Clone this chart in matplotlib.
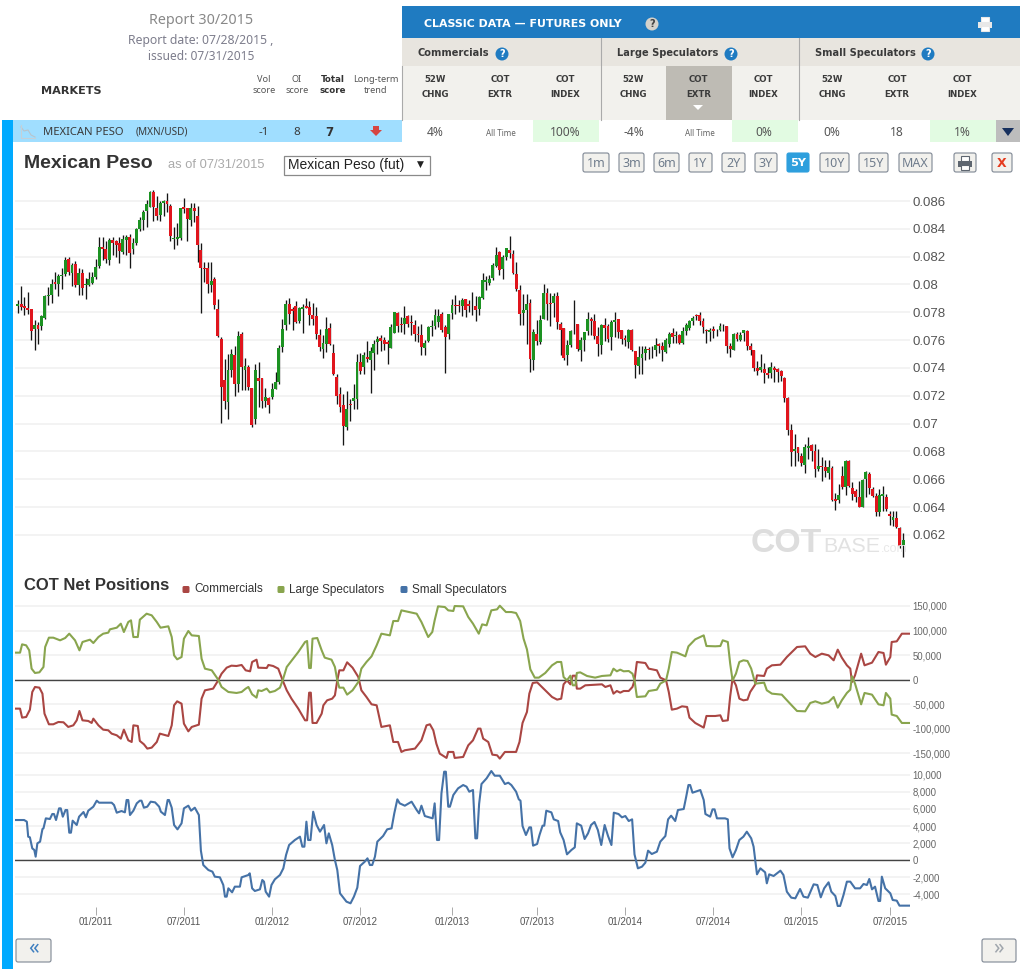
import numpy as np
import matplotlib
matplotlib.use('Agg')
import matplotlib.pyplot as plt
from matplotlib.patches import Rectangle, FancyBboxPatch, Circle, Polygon

# weekly candles, prices in thousandths of USD per MXN
opens = [78.49,78.58,78.46,78.29,78.22,76.81,77.09,77.00,77.62,79.16,
         79.23,80.19,80.02,80.60,80.72,81.85,80.79,81.44,79.95,80.84,
         79.93,79.95,80.12,80.55,81.32,82.71,82.52,81.75,83.19,83.09,
         82.95,82.35,83.19,83.38,82.54,82.95,84.00,84.63,85.25,85.59,
         86.67,85.49,84.97,85.83,86.02,85.66,83.26,83.26,83.31,85.54,
         85.47,84.63,85.47,84.94,82.47,81.22,81.15,79.97,80.43,78.27,
         76.11,73.11,71.55,73.83,74.96,72.82,76.47,73.88,74.07,72.53,
         70.35,73.30,73.30,71.60,71.84,71.91,72.46,73.00,75.51,77.07,
         78.63,78.27,78.44,77.38,78.25,78.44,78.39,77.79,77.72,76.40,
         75.39,75.70,76.85,75.10,73.35,72.10,71.35,69.78,71.42,71.66,
         71.76,74.46,74.05,74.78,74.54,75.07,75.86,76.15,75.98,75.86,
         75.45,76.51,77.97,77.18,77.13,77.71,77.28,77.06,76.41,76.34,
         75.45,75.93,76.94,76.99,77.30,77.90,76.94,76.46,77.97,78.55,
         78.55,78.43,78.98,78.62,78.55,78.43,78.21,79.05,80.16,80.13,
         80.47,81.33,82.32,81.14,81.98,82.46,82.22,80.78,79.63,77.97,
         78.19,78.67,74.54,76.46,75.86,77.52,79.39,78.67,78.67,79.15,
         77.18,76.87,74.90,75.62,77.18,77.13,75.26,75.98,76.63,77.52,
         77.37,76.27,75.62,77.11,76.99,76.22,77.30,77.54,76.75,76.17,
         75.86,76.75,75.21,74.11,74.73,75.07,75.38,75.38,75.26,75.69,
         75.57,75.14,75.74,76.51,76.27,76.39,75.83,76.63,76.87,77.35,
         77.79,77.79,77.40,76.75,76.56,76.80,76.70,76.75,76.99,77.04,
         75.59,75.30,76.44,75.98,76.51,76.63,75.55,75.30,73.98,73.86,
         73.91,73.67,73.67,73.98,73.91,73.81,73.26,71.81,69.57,68.00,
         68.32,67.71,67.06,68.27,68.44,68.03,66.75,66.94,66.87,66.44,
         66.80,64.58,64.53,66.27,65.42,67.35,65.38,65.18,64.70,63.98,
         66.03,66.39,65.30,64.82,63.62,64.82,64.75,63.50,63.09,63.21,
         62.53,61.28]
closes = [78.58,78.39,78.34,78.20,76.66,77.09,76.81,77.72,79.16,79.23,
          80.00,80.05,80.60,80.69,81.75,80.91,81.37,79.95,80.79,79.78,
          80.02,80.38,80.55,81.27,82.71,82.57,81.80,83.19,82.95,82.85,
          82.40,83.29,83.38,82.28,82.95,84.00,84.63,85.21,85.78,86.65,
          85.54,84.94,85.83,86.00,85.78,83.48,83.36,83.41,85.47,85.45,
          84.68,85.47,85.30,82.83,81.20,81.13,80.00,80.26,78.51,76.28,
          72.63,71.60,73.83,74.98,72.82,76.30,74.07,74.17,72.63,69.87,
          73.83,73.04,71.60,71.91,71.31,72.49,73.00,75.46,76.83,78.63,
          77.86,78.10,77.31,78.29,78.39,78.34,77.79,77.55,76.42,75.51,
          75.82,76.78,75.70,73.54,71.96,71.16,69.83,71.08,71.33,71.81,
          74.46,73.81,74.94,74.64,75.21,75.74,76.10,75.93,75.69,75.74,
          76.94,78.02,77.04,77.08,77.59,77.18,77.23,76.46,76.34,75.50,
          75.81,76.94,77.04,77.78,77.73,76.70,76.22,77.90,78.50,78.43,
          78.48,78.91,78.19,78.43,78.50,78.14,79.10,80.30,80.30,80.42,
          81.43,82.15,81.02,81.98,82.63,82.29,80.83,79.70,77.85,78.19,
          78.62,74.66,76.58,75.93,77.47,79.39,78.57,78.62,79.15,77.30,
          76.75,74.73,75.67,76.63,77.13,75.38,75.98,76.58,77.54,77.35,
          76.27,75.69,77.11,76.89,76.10,77.30,77.42,76.58,76.10,76.03,
          76.70,75.26,74.18,74.78,75.02,75.38,75.31,75.33,75.62,75.55,
          75.31,76.03,76.46,76.22,76.39,75.79,76.63,77.11,77.35,77.59,
          77.71,77.40,76.92,76.63,76.70,76.63,76.75,77.04,77.04,75.59,
          75.35,76.44,76.08,76.39,76.70,75.59,75.26,73.98,73.81,74.10,
          73.67,73.50,74.05,73.86,73.74,73.43,71.81,69.57,67.95,68.15,
          67.88,67.16,68.32,68.39,68.03,66.75,66.99,66.87,66.58,66.87,
          64.53,64.46,64.89,65.47,67.30,65.50,64.94,64.70,63.98,65.98,
          66.51,65.38,64.82,63.62,64.89,64.94,63.86,63.38,63.26,62.58,
          61.21,61.66]
highs = [78.92,79.88,79.11,79.47,78.27,77.43,77.31,77.79,79.23,79.83,
         80.36,80.91,80.72,81.20,81.99,81.94,81.51,81.70,81.15,81.08,
         80.50,80.91,80.91,81.80,83.38,83.38,83.14,83.31,83.38,83.19,
         83.43,83.55,83.55,83.60,83.31,84.08,84.82,85.35,86.07,86.72,
         86.79,86.36,86.02,86.07,86.60,85.76,84.15,84.44,85.52,86.19,
         85.52,85.88,85.88,85.64,82.95,81.63,81.63,81.63,80.55,78.99,
         76.23,74.67,75.03,75.39,75.58,76.66,76.59,74.74,74.19,72.58,
         74.31,74.43,73.30,72.58,71.91,72.92,73.71,75.63,77.55,78.87,
         79.06,78.39,78.82,78.39,78.63,79.01,78.82,78.68,78.39,76.78,
         76.35,77.67,77.24,75.75,73.59,72.60,72.12,72.36,71.76,72.84,
         75.01,75.08,75.13,75.91,75.50,75.98,76.27,76.39,76.22,75.98,
         77.18,78.02,78.02,77.66,78.45,77.83,77.83,77.47,76.99,77.18,
         76.03,76.99,77.42,78.21,78.21,78.02,77.06,77.90,78.93,79.22,
         78.91,79.05,78.98,78.86,79.46,79.15,79.15,80.83,80.59,80.66,
         81.55,82.70,82.41,82.10,82.63,83.52,82.46,81.62,79.94,79.34,
         79.34,78.98,76.82,77.47,77.83,80.06,79.75,79.39,79.39,79.46,
         77.30,76.87,75.98,76.70,78.91,77.13,76.22,76.58,78.02,77.66,
         77.90,76.94,77.18,77.56,77.13,77.42,78.02,77.54,76.75,76.34,
         76.82,76.82,75.21,75.55,75.55,75.55,75.50,75.55,76.17,75.79,
         75.86,76.17,76.58,76.87,76.63,76.46,76.92,77.23,77.47,77.71,
         77.91,78.00,77.59,76.80,76.87,76.99,76.80,77.23,77.18,77.04,
         75.79,76.51,76.61,76.56,76.75,76.70,75.83,75.30,74.51,74.99,
         74.39,74.10,74.46,74.17,73.98,73.86,73.38,71.93,70.00,69.28,
         68.32,67.88,68.51,69.04,68.51,68.56,68.20,67.59,67.40,67.40,
         66.94,64.99,65.66,66.99,67.40,67.40,65.79,65.30,65.91,66.03,
         66.63,66.51,65.47,64.99,65.30,65.54,64.94,63.69,63.69,63.69,
         62.58,62.17]
lows = [77.98,78.15,77.79,77.91,75.99,75.32,75.70,76.71,77.55,78.56,
        78.70,79.71,79.18,79.64,80.62,80.67,79.88,79.83,79.23,79.28,
        78.94,79.90,80.02,80.36,81.22,81.75,81.51,81.39,82.11,81.99,
        81.56,82.18,82.11,81.15,82.18,82.83,83.84,83.91,84.15,85.59,
        84.58,84.63,84.58,84.92,85.23,83.14,82.52,82.83,83.19,85.11,
        83.14,84.20,84.51,81.63,77.98,80.19,79.40,79.47,78.27,76.23,
        70.06,71.07,70.35,73.35,71.96,72.27,72.39,72.39,72.39,69.75,
        69.99,71.19,71.12,71.19,70.78,71.79,72.46,72.87,75.15,76.71,
        77.19,76.71,77.24,77.24,76.52,78.29,77.12,77.07,76.11,75.22,
        74.74,75.15,75.68,73.47,71.43,70.84,68.50,69.54,70.19,71.08,
        71.08,73.57,73.60,74.42,72.21,73.87,75.02,75.21,75.31,74.30,
        75.45,76.51,76.58,76.58,76.46,76.94,76.34,75.93,75.86,74.95,
        74.95,75.86,76.27,76.82,76.94,76.58,73.63,76.05,77.49,77.90,
        78.02,77.73,77.66,78.02,77.78,77.35,77.78,78.98,79.58,79.94,
        80.35,81.26,80.66,80.42,81.79,81.93,80.73,79.51,77.11,77.11,
        75.69,73.70,73.82,75.62,75.69,77.52,77.47,77.04,77.66,76.82,
        74.95,74.59,74.18,75.50,76.41,75.21,74.49,75.21,76.39,76.34,
        76.10,74.83,75.02,75.93,75.86,75.26,76.22,76.17,75.74,75.55,
        75.45,75.21,73.27,73.58,73.58,74.59,74.66,74.73,74.85,75.07,
        74.49,75.07,75.50,75.79,75.79,75.71,75.74,76.39,76.75,77.11,
        77.47,77.11,76.51,75.79,75.91,76.15,76.27,76.63,76.63,75.11,
        74.82,75.26,75.91,75.91,75.91,75.30,74.94,73.81,73.50,73.74,
        72.90,73.26,73.26,73.02,73.02,73.09,71.57,69.16,66.94,66.94,
        67.35,66.99,66.44,67.47,67.35,66.20,66.63,65.91,66.15,66.03,
        64.46,63.81,64.27,65.30,64.87,65.42,64.51,64.34,63.98,63.98,
        64.70,64.94,64.70,63.38,63.38,63.74,63.74,62.72,62.65,62.48,
        61.09,60.41]

# net positions, week number from first candle, contracts in thousands
comm_weeks = [-0.8,0.7,1.3,2.5,3.6,4.3,5.1,6.4,7.3,7.9,9.2,10.5,12.0,13.5,14.9,16.4,17.4,18.2,19.1,20.8,
              21.8,22.3,23.8,25.2,26.7,27.7,29.2,30.4,31.3,32.6,33.6,34.1,35.4,36.0,37.2,38.2,39.5,41.0,41.9,44.4,
              45.4,46.1,47.0,48.3,49.0,50.3,51.3,53.4,54.2,55.2,57.6,59.1,60.1,61.6,63.0,64.5,66.0,67.2,68.5,69.1,
              70.4,70.9,73.4,73.9,75.3,76.8,78.1,79.3,80.7,82.7,84.7,85.3,85.9,86.4,86.9,88.1,89.6,90.1,91.2,92.7,
              93.5,94.2,94.8,96.0,97.1,98.7,100.4,101.3,102.8,104.3,105.8,107.2,109.7,110.7,112.1,113.1,114.1,117.1,119.0,120.5,
              121.5,122.5,123.4,124.4,126.4,126.9,128.4,128.8,131.3,132.8,134.2,135.7,136.4,137.2,138.7,139.9,141.3,142.1,143.6,145.5,
              146.9,147.9,148.8,150.1,150.8,151.8,153.1,155.5,157.5,159.0,160.2,160.9,161.9,162.9,163.6,164.4,164.8,165.8,167.3,172.2,
              173.2,174.7,175.6,176.6,177.6,178.6,180.1,181.2,181.8,182.5,185.0,186.0,188.4,189.4,191.1,191.9,192.8,194.3,195.8,197.3,
              198.0,199.7,202.2,203.0,205.6,207.1,207.8,209.3,210.0,210.7,211.7,212.7,213.9,215.1,215.9,217.4,217.9,220.0,220.8,222.3,
              224.8,226.7,229.7,232.1,233.6,235.1,237.0,239.0,240.5,241.7,242.9,244.4,245.4,245.9,246.8,248.6,249.6,251.8,253.7,255.2,
              255.9,257.2,257.6,259.1,260.6,263.0]
comm_net = [-59.0,-59.0,-77.3,-76.0,-61.1,-25.1,-14.9,-16.3,-28.5,-69.2,-90.9,-90.9,-86.2,-86.8,-96.3,-93.0,-82.8,-63.8,-82.8,-84.1,
            -88.2,-79.4,-93.0,-101.8,-103.1,-109.9,-113.3,-120.1,-101.8,-123.5,-126.9,-93.0,-94.3,-124.8,-131.6,-140.4,-138.4,-126.9,-109.9,-114.7,
            -93.0,-52.2,-44.1,-48.9,-89.6,-105.2,-96.3,-91.6,-38.7,-21.7,-18.3,-1.4,12.2,24.4,28.5,27.8,29.9,19.0,17.0,36.0,
            40.7,24.4,23.7,29.9,27.8,22.4,-1.4,-21.7,-38.7,-59.0,-82.8,-82.8,-26.5,-26.5,-88.2,-88.2,-69.2,-52.2,-42.1,-38.7,
            -31.9,-1.4,19.0,19.0,35.3,24.4,5.4,-21.7,-35.3,-50.2,-52.2,-96.3,-93.0,-126.9,-126.9,-147.2,-143.8,-140.4,-123.5,-93.0,
            -90.9,-103.1,-130.3,-150.6,-159.4,-147.2,-147.2,-159.4,-157.4,-133.7,-123.5,-99.7,-99.7,-120.1,-126.9,-152.7,-154.0,-160.8,-147.2,-147.2,
            -147.2,-126.9,-88.2,-65.8,-28.5,-6.8,-5.4,-21.7,-35.3,-40.7,-38.7,-9.5,-1.4,-9.5,8.1,8.1,-18.3,-18.3,-11.5,-9.5,
            -14.9,-11.5,-28.5,-23.1,-26.5,-23.1,-23.1,-14.9,-1.4,36.0,33.9,22.4,19.0,4.1,-1.4,-25.1,-61.1,-59.0,-54.3,-55.6,
            -77.3,-88.2,-97.7,-74.0,-74.0,-72.6,-84.1,-82.8,-33.9,2.0,-11.5,-38.7,-42.1,-40.7,-25.1,-9.5,8.8,7.5,22.4,29.2,
            30.5,46.1,66.5,67.9,52.9,46.1,52.9,49.5,39.4,61.1,44.8,29.2,22.4,-4.7,8.8,52.9,29.2,34.6,56.3,54.3,
            30.5,46.1,76.7,78.0,93.6,93.6]

large_weeks = [-0.8,0.7,1.3,2.5,3.4,4.1,5.1,6.4,7.6,8.1,9.2,10.5,12.5,14.0,15.2,16.9,18.2,19.1,21.3,22.3,
               23.8,25.2,26.7,27.2,29.2,30.4,31.3,32.6,33.4,34.1,35.4,36.0,38.0,39.5,41.0,42.1,44.4,45.4,46.1,47.0,
               48.3,49.0,50.3,51.3,53.4,54.2,55.2,57.2,59.1,60.1,62.1,64.5,66.0,67.2,68.0,69.1,70.4,70.9,71.9,73.4,
               74.3,75.8,77.3,78.1,79.3,81.2,82.7,84.7,85.3,85.9,86.4,86.9,88.3,89.6,90.5,92.5,93.5,94.2,94.8,96.0,
               97.1,98.7,100.4,101.3,102.8,104.3,105.8,107.2,109.7,110.7,112.1,113.1,117.6,119.0,121.0,122.2,122.9,123.9,125.9,126.9,
               128.4,128.8,131.3,132.8,134.2,135.9,136.9,138.2,139.6,141.3,142.1,143.9,145.5,146.9,148.1,149.1,150.1,151.1,152.4,153.6,
               155.5,157.5,159.0,160.2,160.9,161.9,162.9,163.6,164.4,164.8,165.8,167.8,170.2,172.2,174.7,175.6,176.6,177.6,178.6,180.1,
               181.2,181.8,182.5,185.0,186.0,188.4,189.4,191.1,191.9,192.8,194.3,196.8,197.7,199.7,202.2,203.0,205.6,207.1,207.8,209.3,
               210.0,210.7,211.7,212.7,213.9,215.1,216.2,217.4,220.0,220.8,222.3,225.2,227.2,229.7,232.1,233.6,235.1,237.0,239.0,240.5,
               241.7,242.9,244.4,245.4,245.9,246.8,248.6,249.6,251.8,253.7,255.2,255.9,257.2,257.6,259.1,260.6,263.0]
large_net = [55.0,55.0,71.9,69.9,59.7,22.4,13.6,14.9,25.8,66.5,85.5,85.5,80.1,84.8,93.6,80.1,59.7,76.7,81.4,74.6,
             86.8,93.6,95.7,102.5,105.8,114.0,97.0,117.4,120.8,86.8,86.8,122.1,134.3,131.0,117.4,105.8,108.6,86.8,49.5,41.4,
             46.1,83.5,99.1,90.2,88.9,42.7,22.4,19.0,0.0,-14.9,-25.1,-27.1,-25.1,-18.3,-14.9,-29.9,-36.6,-21.7,-23.1,-18.3,
             -25.8,-23.1,-16.3,-1.4,25.8,42.7,56.3,76.7,78.7,23.7,23.7,83.5,84.8,59.7,44.8,40.7,25.8,-1.4,-16.3,-16.3,
             -30.5,-21.7,-4.7,22.4,36.0,47.5,69.9,93.6,90.2,119.4,119.4,141.1,134.3,117.4,86.8,97.0,120.8,149.3,147.9,141.1,
             139.8,149.9,149.3,127.6,114.0,93.6,112.6,110.6,141.1,143.2,150.6,137.7,137.7,135.7,119.4,83.5,61.7,21.0,4.1,4.1,
             13.6,29.2,36.0,36.0,5.4,-1.4,8.1,-11.5,-11.5,13.6,14.9,7.5,4.1,7.5,8.8,22.4,17.0,20.4,17.0,17.6,
             12.2,-1.4,-35.3,-33.9,-23.1,-20.4,-8.1,-1.4,22.4,56.3,55.0,47.5,67.9,82.1,90.2,68.5,67.9,68.5,80.1,76.7,
             32.6,-1.4,12.2,36.0,39.4,38.0,22.4,-8.1,-6.1,-21.7,-28.5,-30.5,-45.5,-63.8,-64.5,-47.5,-44.1,-48.9,-45.5,-35.3,
             -57.0,-42.1,-27.1,-20.4,6.8,-8.1,-50.2,-27.1,-30.5,-50.2,-52.2,-27.1,-38.7,-71.2,-74.0,-88.2,-88.2]

small_weeks = [-0.8,1.9,2.7,3.1,3.6,4.3,4.9,5.3,5.8,6.6,7.3,7.6,8.3,9.5,10.2,10.7,11.3,12.2,12.7,13.3,
               14.1,14.6,15.2,15.7,16.2,17.4,18.1,19.4,20.1,20.8,22.3,23.3,24.0,27.7,28.4,29.2,30.6,31.6,32.1,32.6,
               33.1,34.1,35.1,36.0,36.5,37.2,38.2,39.2,40.5,41.7,42.2,43.4,44.2,44.6,45.4,46.1,47.1,48.3,49.0,50.3,
               51.1,52.2,53.4,54.0,54.7,56.2,57.4,58.1,59.6,60.6,61.1,61.6,62.1,63.2,64.0,65.5,66.0,68.0,68.4,69.1,
               69.9,71.4,72.1,72.6,73.1,74.1,74.8,75.8,77.3,78.3,79.1,80.0,81.7,83.2,83.9,84.5,85.1,85.6,86.3,87.1,
               88.1,89.1,90.3,91.0,91.7,92.7,93.5,94.2,95.0,96.9,98.1,99.1,100.1,100.9,102.3,103.1,103.8,104.5,105.3,106.0,
               107.7,108.9,110.2,111.0,111.9,112.6,114.1,116.1,117.6,118.3,119.0,120.0,122.3,122.9,123.6,124.2,124.9,125.7,126.2,126.9,
               127.4,128.4,129.8,131.3,132.3,133.1,134.2,134.9,135.4,136.0,136.7,138.2,139.6,140.6,142.1,143.6,144.6,145.5,146.9,147.7,
               148.2,148.8,149.8,150.8,151.3,151.9,153.1,153.8,154.7,155.2,155.8,157.3,158.0,159.3,159.9,160.9,161.9,163.2,164.2,164.8,
               166.1,167.1,168.1,169.0,170.0,171.0,172.0,173.0,174.0,175.0,175.7,177.1,178.1,179.1,180.1,181.1,181.8,182.8,184.0,185.0,
               185.8,186.9,188.4,189.4,190.9,191.7,192.6,193.8,194.6,196.3,197.0,197.7,198.2,198.9,201.2,202.2,202.7,204.1,204.8,205.4,
               206.1,208.5,209.3,209.8,210.7,211.7,212.7,213.9,214.9,216.2,216.9,217.9,218.9,220.3,220.8,221.5,222.8,224.8,225.7,226.7,
               228.0,229.2,230.6,231.6,232.9,234.6,235.7,236.7,237.7,239.0,239.8,241.0,241.7,242.4,243.4,244.4,245.4,246.8,248.3,249.3,
               250.3,251.0,251.8,252.7,253.7,254.2,254.7,255.7,257.2,257.9,259.1,259.9,263.0]
small_net = [4704,4704,4508,2744,2666,1372,1176,392,1960,2156,3646,3724,4900,4822,5410,5410,4704,6076,6076,5096,
             5880,5880,3214,3214,4626,4116,5096,5645,5018,5802,6272,6978,6742,6742,6468,5566,5762,5606,7056,7056,
             5292,5802,6664,6978,6978,6154,6272,6860,6782,6272,5684,5292,7056,7056,6154,4116,3606,4312,6076,6390,
             5802,6154,5292,1098,-588,-1176,-1372,-1960,-2038,-2940,-4312,-4312,-3332,-3802,-3136,-3136,-2038,-1764,-1568,-3332,
             -3646,-3450,-2352,-2548,-3724,-4312,-2940,-2274,-1764,-980,588,1764,2352,2744,1568,1568,4508,2352,2352,5684,
             4116,3332,4116,1960,3136,1764,0,-1176,-3920,-4900,-5096,-4312,-3254,-706,-196,196,-588,-588,392,2156,
             2822,3606,3724,5488,7134,6664,6390,6860,5880,5488,6390,5174,4900,6664,2352,2352,7840,10388,10388,6272,
             6272,7644,8428,8820,8624,8036,8232,2548,2548,6586,8938,9604,10466,9918,9918,8938,9094,8820,8036,7134,
             6978,3998,2940,3842,3842,1686,1882,2940,4038,4038,5802,5606,4782,4586,3254,2352,666,1176,1490,4312,
             4038,2470,3136,4116,4469,3528,1764,4116,2822,1764,5566,5410,5018,5174,4586,4782,666,-980,-784,-314,
             1098,706,980,2156,2822,4782,5214,4586,5880,5998,7370,8820,8820,7918,8232,7056,5410,5096,5958,5958,
             4900,4900,4782,1372,314,1176,2352,2744,3332,2548,1568,-1686,-980,-1450,-2744,-1686,-1882,-1254,-1764,-3724,
             -4430,-4508,-3410,-4312,-4430,-2862,-2940,-4390,-3332,-2626,-3724,-4234,-5410,-5410,-4116,-2548,-2548,-3332,-3332,-2822,
             -2940,-2234,-3450,-3136,-4822,-4822,-1960,-3332,-3920,-4704,-4782,-5370,-5370]

price_ticks = [0.062,0.064,0.066,0.068,0.07,0.072,0.074,0.076,0.078,0.08,0.082,0.084,0.086]
net_ticks = [-150,-100,-50,0,50,100,150]
small_ticks = [-4000,-2000,0,2000,4000,6000,8000,10000]
date_ticks = [23,49,75,101,128,153,179,205,231,257]
date_labels = ['01/2011','07/2011','01/2012','07/2012','01/2013','07/2013','01/2014','07/2014','01/2015','07/2015']

range_buttons = ['1m','3m','6m','1Y','2Y','3Y','5Y','10Y','15Y','MAX']
range_left = [583,619,654,689,722,755,787,820,859,899]
range_right = [609,644,679,712,745,777,809,849,888,932]
group_names = ['Commercials','Large Speculators','Small Speculators']
column_names = ['52W\nCHNG','COT\nEXTR','COT\nINDEX']
row_cells = ['4%','All Time','100%','-4%','All Time','0%','0%','18','1%']

W, H = 1025, 969
SANS = 'Liberation Sans'
TAHOMA = 'Noto Sans'
TAHOMA_BOLD = 'DejaVu Sans'
COMM_C, LARGE_C, SMALL_C = '#AA4643', '#89A54E', '#4572A7'

fig = plt.figure(figsize=(W/100, H/100), dpi=100, facecolor='white')


def px_axes(l, t, r, b):
    a = fig.add_axes([l/W, 1-b/H, (r-l)/W, (b-t)/H])
    a.patch.set_alpha(0)
    return a


def chart_axes(t, b, top_v, bot_v, ticks, labels, size, color):
    a = px_axes(15, t, 910, b)
    a.set_xlim(-0.79, 263)
    a.set_ylim(bot_v, top_v)
    for s in a.spines.values():
        s.set_visible(False)
    a.yaxis.tick_right()
    a.set_yticks(ticks)
    a.set_yticklabels(labels, fontsize=size, color=color, family=SANS)
    a.tick_params(axis='y', length=0, pad=2)
    a.set_xticks([])
    a.grid(True, axis='y', color='#f0f0f0', linewidth=1.1)
    a.set_axisbelow(True)
    return a


# page furniture in pixel coordinates
ui = fig.add_axes([0, 0, 1, 1])
ui.set_xlim(0, W)
ui.set_ylim(H, 0)
ui.axis('off')


def box(x0, y0, x1, y1, color):
    ui.add_patch(Rectangle((x0, y0), x1-x0, y1-y0, facecolor=color, edgecolor='none'))


def txt(x, y, s, size, color='#444444', weight='normal', ha='center', family=TAHOMA, **kw):
    ui.text(x, y, s, fontsize=size, color=color, fontweight=weight, ha=ha, va='center', family=family, **kw)


def btxt(x, y, s, size, color='#3a3a3a', ha='center'):
    txt(x, y, s, size, color, 'bold', ha, TAHOMA_BOLD)


def help_icon(x, y, color='#1F7BC1', mark='white'):
    ui.add_patch(Circle((x, y), 6.5, facecolor=color, edgecolor='none'))
    btxt(x, y, '?', 7, mark)


def button(x0, y0, x1, y1, face='#F2F1ED', edge='#7E8794'):
    ui.add_patch(FancyBboxPatch((x0+1, y0+1), x1-x0-2, y1-y0-2, boxstyle='round,pad=1,rounding_size=2',
                                facecolor=face, edgecolor=edge, linewidth=0.8))


def printer(x, y, body='#8a8f96'):
    box(x-4, y-7, x+4, y-2, 'white')
    ui.add_patch(Rectangle((x-4, y-7), 8, 5, facecolor='white', edgecolor=body, linewidth=0.8))
    box(x-7, y-2, x+7, y+4, body)
    ui.add_patch(Rectangle((x-4, y+2), 8, 5, facecolor='white', edgecolor=body, linewidth=0.8))


box(2, 120, 13, H, '#00AAFF')
box(13, 120, 402, 142, '#A0DEFF')
txt(201, 20, 'Report 30/2015', 10.3, '#888888')
txt(201, 40, 'Report date: 07/28/2015 ,', 8.8, '#7d7d8c')
txt(201, 56, 'issued: 07/31/2015', 8.6, '#7d7d8c')
btxt(41, 91, 'MARKETS', 8.1, '#333333', ha='left')
txt(264, 79, 'Vol', 6.6, '#555555')
txt(264, 90, 'score', 6.6, '#555555')
txt(297, 79, 'OI', 6.6, '#555555')
txt(297, 90, 'score', 6.6, '#555555')
btxt(333, 79, 'Total', 6.2, '#333333')
btxt(333, 90, 'score', 6.2, '#333333')
txt(376, 79, 'Long-term', 6.6, '#555555')
txt(376, 90, 'trend', 6.6, '#555555')

box(402, 6, 1020, 38, '#1F7BC1')
btxt(424, 24, 'CLASSIC DATA — FUTURES ONLY', 7.9, 'white', ha='left')
help_icon(652, 24, '#d5d2cb', '#444444')
printer(985, 24, '#e8e8e8')
box(402, 38, 1020, 66, '#E8E5DF')
box(402, 66, 1020, 120, '#F2F1ED')
box(666, 66, 732, 120, '#BEBBB4')
ui.add_patch(Polygon([[693, 105], [703, 105], [698, 110]], facecolor='white', edgecolor='none'))
for sep_x in [402, 601, 799]:
    ui.plot([sep_x, sep_x], [38 if sep_x > 402 else 66, 120], color='#aaaaaa', linewidth=0.8)
group_x = [418, 617, 815]
help_x = [502, 731, 928]
col_x = [435, 500, 565]
for g in range(3):
    btxt(group_x[g], 53, group_names[g], 7.1, ha='left')
    help_icon(help_x[g], 54)
    for c in range(3):
        top, bot = column_names[c].split('\n')
        cx = col_x[c] + 198.5*g
        btxt(cx, 79, top, 6.2)
        btxt(cx, 94, bot, 6.2)
        if c == 2:
            box(cx-32, 120, cx+34, 142, '#E2FBE2')
        cell = row_cells[g*3+c]
        if cell == 'All Time':
            txt(cx+1, 133, cell, 5.8, '#666666')
        else:
            txt(cx, 132, cell, 8.6, '#555555')
box(996, 120, 1020, 142, '#BDBDBD')
ui.add_patch(Polygon([[1002, 128], [1014, 128], [1008, 136]], facecolor='#17305e', edgecolor='none'))

# row with the market name
ui.plot([21, 24, 28, 31, 35], [127, 131, 130, 135, 137], color='#b8c4cc', linewidth=0.8)
ui.plot([21, 21, 35], [125, 138, 138], color='#c4d0d8', linewidth=0.8)
txt(43, 132, 'MEXICAN PESO', 8.1, '#3a3a3a', ha='left')
txt(136, 132, '(MXN/USD)', 7.2, '#3a3a3a', ha='left')
txt(264, 132, '-1', 8.4, '#3a3a3a')
txt(297, 132, '8', 8.4, '#3a3a3a')
btxt(329, 132, '7', 8.6, '#333333')
ui.add_patch(Polygon([[373, 126], [379, 126], [379, 130], [382, 130], [376, 136], [370, 130], [373, 130]],
                     facecolor='#D64541', edgecolor='none'))

# title row
txt(24, 163, 'Mexican Peso', 14, '#333333', 'bold', ha='left', family=SANS)
txt(168, 165, 'as of 07/31/2015', 9.3, '#aaaaaa', ha='left', family=SANS)
ui.add_patch(Rectangle((283.5, 155.5), 146, 19, facecolor='white', edgecolor='#8a8a8a', linewidth=0.9))
txt(288, 165, 'Mexican Peso (fut)', 10, '#222222', ha='left', family=SANS)
txt(420, 164, '▼', 6.5, '#222222', family='DejaVu Sans')
for name, x0, x1 in zip(range_buttons, range_left, range_right):
    active = name == '5Y'
    button(x0, 153, x1, 172, '#2E9FDD' if active else '#F2F1ED', '#2E9FDD' if active else '#7E8794')
    if active:
        btxt((x0+x1)/2, 163, name, 8.2, 'white')
    else:
        txt((x0+x1)/2, 163, name, 9, '#6f7c8c')
button(954, 153, 976, 172)
printer(965, 163, '#5e6670')
button(992, 153, 1012, 172)
btxt(1002, 163, 'X', 9, '#E53B1E')

# chart headings
txt(24, 586, 'COT Net Positions', 12, '#333333', 'bold', ha='left', family=SANS)
legend_sq = [186, 281, 404]
legend_x = [194, 289, 412]
for name, c, sq, lx in zip(group_names, [COMM_C, LARGE_C, SMALL_C], legend_sq, legend_x):
    ui.add_patch(FancyBboxPatch((sq-3, 586.5), 6, 6, boxstyle='round,pad=0.5,rounding_size=1.5', facecolor=c, edgecolor='none'))
    txt(lx, 589.5, name, 8.45, '#333333', ha='left', family=SANS)

# bottom page buttons
button(16, 939, 51, 962)
txt(33, 949, '«', 15, '#3f7fc0')
button(982, 939, 1016, 962)
txt(999, 949, '»', 15, '#a0a6ad')

# price panel
price_ax = chart_axes(185, 560, 0.08715, 0.0602, price_ticks, ['%g' % v for v in price_ticks], 9.5, '#555555')
week = np.arange(len(opens))
o = np.array(opens)/1000
c = np.array(closes)/1000
up = c >= o
price_ax.vlines(week, np.array(lows)/1000, np.array(highs)/1000, color='#151515', linewidth=0.95, zorder=2)
price_ax.bar(week[up], (c-o)[up], bottom=o[up], width=0.85, color='#1c9222', linewidth=0, zorder=3)
price_ax.bar(week[~up], (c-o)[~up], bottom=o[~up], width=0.85, color='#e0151d', linewidth=0, zorder=3)

# watermark
fig.text(751/W, 1-551.5/H, 'COT', fontsize=24.3, fontweight='bold', color='#dddddd', family=SANS, ha='left', va='baseline')
fig.text(823/W, 1-551.5/H, 'BASE', fontsize=15.4, color='#e2e2e2', family=SANS, ha='left', va='baseline')
fig.text(881/W, 1-551.5/H, '.com', fontsize=9, color='#e8e8e8', family=SANS, ha='left', va='baseline')

# COT panels
net_ax = chart_axes(600, 760, 162.2, -163.6, net_ticks, ['{:,}'.format(v*1000) for v in net_ticks], 6.9, '#666666')
net_ax.axhline(0, color='#444444', linewidth=1.0, zorder=2)
net_ax.plot(comm_weeks, comm_net, color=COMM_C, linewidth=1.5, zorder=3, solid_joinstyle='round')
net_ax.plot(large_weeks, large_net, color=LARGE_C, linewidth=1.5, zorder=4, solid_joinstyle='round')

small_ax = chart_axes(770, 907, 10588, -5529, small_ticks, ['{:,}'.format(v) for v in small_ticks], 6.9, '#666666')
small_ax.axhline(0, color='#444444', linewidth=1.0, zorder=2)
small_ax.plot(small_weeks, small_net, color=SMALL_C, linewidth=1.5, zorder=3, solid_joinstyle='round')
small_ax.set_xticks(date_ticks)
small_ax.set_xticklabels(date_labels, fontsize=7, color='#555555', family=SANS)
small_ax.tick_params(axis='x', length=5.8, width=0.7, color='#aaaaaa', pad=1.5)

fig.savefig('out.png', dpi=100)
